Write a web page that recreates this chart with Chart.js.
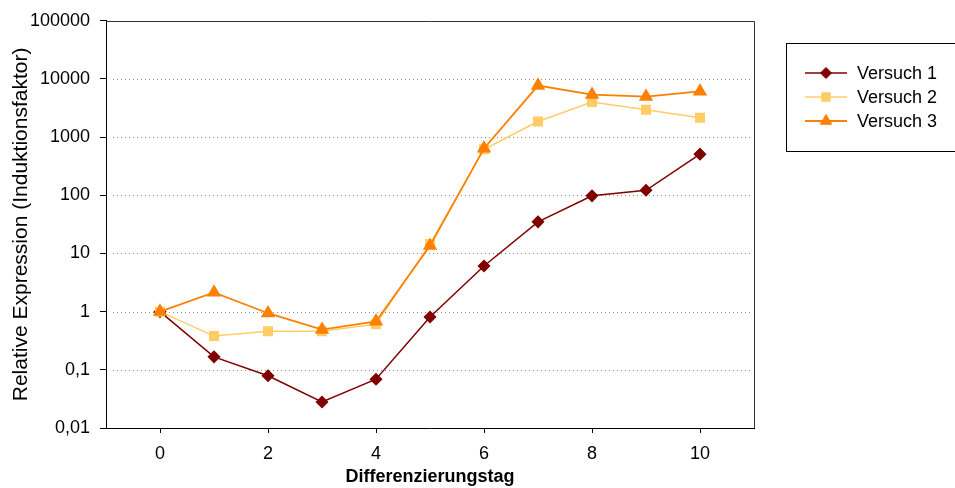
<!DOCTYPE html>
<html>
<head>
<meta charset="utf-8">
<script src="https://cdn.jsdelivr.net/npm/chart.js@4/dist/chart.umd.min.js"></script>
<style>
    body { margin: 0; background: #fff; }
    canvas { display: block; }
</style>
</head>
<body>
<canvas id="expressionChart" width="955" height="488"></canvas>
<script>
    // Values
    var days = [0, 1, 2, 3, 4, 5, 6, 7, 8, 9, 10];
    var versuch1 = [1, 0.167, 0.079, 0.028, 0.069, 0.81, 6.1, 35, 98, 122, 510];
    var versuch2 = [1, 0.38, 0.46, 0.46, 0.61, 14.5, 620, 1860, 4000, 2950, 2150];
    var versuch3 = [1, 2.14, 0.94, 0.49, 0.68, 13.6, 640, 7700, 5370, 4970, 6120];
    var seriesNames = ['Versuch 1', 'Versuch 2', 'Versuch 3'];
    var xTicks = [0, 2, 4, 6, 8, 10];
    var yTicks = [0.01, 0.1, 1, 10, 100, 1000, 10000, 100000];

    var fontFamily = "'Liberation Sans', Arial, sans-serif";

    function points(values) {
        return days.map(function(d, i) { return { x: d, y: values[i] }; });
    }

    // dotted grid lines + frame around plot area
    var framePlugin = {
        id: 'frame',
        beforeDatasetsDraw: function(chart) {
            var c = chart.ctx, a = chart.chartArea, ys = chart.scales.y;
            c.save();
            c.strokeStyle = '#8a8a8a';
            c.lineWidth = 1;
            c.setLineDash([1, 3]);
            yTicks.forEach(function(v) {
                if (v === yTicks[0] || v === yTicks[yTicks.length - 1]) return;
                var py = Math.round(ys.getPixelForValue(v)) + 0.5;
                c.beginPath();
                c.moveTo(a.left + 7, py);
                c.lineTo(a.right - 4, py);
                c.stroke();
            });
            c.setLineDash([]);
            c.strokeStyle = '#333';
            c.beginPath();
            c.moveTo(a.left, Math.round(a.top) + 0.5);
            c.lineTo(Math.round(a.right) + 0.5, Math.round(a.top) + 0.5);
            c.lineTo(Math.round(a.right) + 0.5, a.bottom);
            c.stroke();
            c.restore();
        }
    };

    // boxed legend on the right
    var legendPlugin = {
        id: 'boxLegend',
        afterDraw: function(chart) {
            var c = chart.ctx;
            var boxX = 786, boxY = 43, boxW = 172, boxH = 108;
            c.save();
            c.strokeStyle = '#000';
            c.lineWidth = 1;
            c.strokeRect(boxX + 0.5, boxY + 0.5, boxW, boxH);
            c.font = '18px ' + fontFamily;
            c.textBaseline = 'middle';
            c.textAlign = 'left';
            chart.data.datasets.forEach(function(ds, i) {
                var y = boxY + 30 + i * 24;
                c.strokeStyle = ds.borderColor;
                c.lineWidth = ds.borderWidth;
                c.beginPath();
                c.moveTo(805, y);
                c.lineTo(847, y);
                c.stroke();
                c.fillStyle = ds.pointBackgroundColor;
                c.strokeStyle = ds.pointBorderColor;
                c.lineWidth = 1;
                Chart.helpers.drawPoint(c, {
                    pointStyle: ds.pointStyle,
                    radius: ds.pointRadius,
                    rotation: 0,
                    borderWidth: 1
                }, 826, y);
                c.fillStyle = '#000';
                c.fillText(ds.label, 857, y + 1);
            });
            c.restore();
        }
    };

    var ctx = document.getElementById('expressionChart').getContext('2d');
    var expressionChart = new Chart(ctx, {
        type: 'line',
        data: {
            datasets: [{
                label: seriesNames[0],
                data: points(versuch1),
                borderColor: '#800000',
                backgroundColor: '#800000',
                pointBackgroundColor: '#800000',
                pointBorderColor: '#800000',
                borderWidth: 1.5,
                pointStyle: 'rectRot',
                pointRadius: 5.5,
                order: 3
            }, {
                label: seriesNames[1],
                data: points(versuch2),
                borderColor: '#ffcc66',
                backgroundColor: '#ffcc66',
                pointBackgroundColor: '#ffcc66',
                pointBorderColor: '#ffcc66',
                borderWidth: 1.5,
                pointStyle: 'rect',
                pointRadius: 6,
                order: 2
            }, {
                label: seriesNames[2],
                data: points(versuch3),
                borderColor: '#ff8000',
                backgroundColor: '#ff8000',
                pointBackgroundColor: '#ff8000',
                pointBorderColor: '#ff8000',
                borderWidth: 1.8,
                pointStyle: 'triangle',
                pointRadius: 6.5,
                order: 1
            }]
        },
        options: {
            responsive: false,
            animation: false,
            devicePixelRatio: 1,
            layout: { padding: { left: 0, right: 201, top: 16, bottom: 0 } },
            plugins: {
                legend: { display: false },
                tooltip: { enabled: false }
            },
            elements: { line: { tension: 0 } },
            scales: {
                x: {
                    type: 'linear',
                    min: -1,
                    max: 11,
                    afterBuildTicks: function(s) {
                        s.ticks = xTicks.map(function(v) { return { value: v }; });
                    },
                    afterFit: function(s) { s.height = 60; },
                    grid: { drawOnChartArea: false, drawTicks: true, tickLength: 5, color: '#000' },
                    border: { display: true, color: '#000', width: 1 },
                    ticks: {
                        color: '#000',
                        padding: 10,
                        maxRotation: 0,
                        font: { family: fontFamily, size: 18 }
                    },
                    title: {
                        display: true,
                        text: 'Differenzierungstag',
                        color: '#000',
                        padding: { top: 0, bottom: 0 },
                        font: { family: fontFamily, size: 18, weight: 'bold' }
                    }
                },
                y: {
                    type: 'logarithmic',
                    min: 0.01,
                    max: 100000,
                    afterBuildTicks: function(s) {
                        s.ticks = yTicks.map(function(v) { return { value: v }; });
                    },
                    afterFit: function(s) { s.width = 106; },
                    grid: { drawOnChartArea: false, drawTicks: true, tickLength: 6, color: '#000' },
                    border: { display: true, color: '#000', width: 1 },
                    ticks: {
                        color: '#000',
                        padding: 10,
                        font: { family: fontFamily, size: 18 },
                        callback: function(v) { return String(v).replace('.', ','); }
                    },
                    title: {
                        display: true,
                        text: 'Relative Expression (Induktionsfaktor)',
                        color: '#000',
                        padding: { top: 9, bottom: 0 },
                        font: { family: fontFamily, size: 21 }
                    }
                }
            }
        },
        plugins: [framePlugin, legendPlugin]
    });
</script>
</body>
</html>
